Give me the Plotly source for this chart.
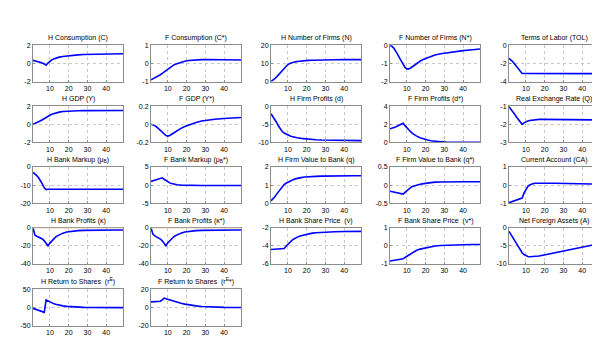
import plotly.graph_objects as go

periods = [1, 2, 3, 4, 5, 6, 7, 8, 9, 10, 11, 12, 13, 14, 15, 17, 19, 21, 23, 25, 28, 31, 35, 40, 45, 49]
x_ticks = [10, 20, 30, 40]

titles = [
    "H Consumption (C)", "F Consumption (C*)", "H Number of Firms (N)", "F Number of Firms (N*)", "Terms of Labor (TOL)",
    "H GDP (Y)", "F GDP (Y*)", "H Firm Profits (d)", "F Firm Profits (d*)", "Real Exchange Rate (Q)",
    "H Bank Markup (\u03bc<sub>B</sub>)", "F Bank Markup (\u03bc<sub>B</sub>*)", "H Firm Value to Bank (q)",
    "F Firm Value to Bank (q*)", "Current Account (CA)",
    "H Bank Profits (\u03ba)", "F Bank Profits (\u03ba*)", "H Bank Share Price  (v)", "F Bank Share Price  (v*)",
    "Net Foreign Assets (A)",
    "H Return to Shares  (r<sup>E</sup>)", "F Return to Shares  (r<sup>E</sup>*)",
]

y_ticks = [
    [-2, 0, 2], [-1, 0, 1], [0, 10, 20], [-2, -1, 0], [-4, -2, 0],
    [-2, 0, 2], [-0.2, 0, 0.2], [-10, -5, 0], [0, 2, 4], [-3, -2, -1],
    [-20, -10, 0], [-5, 0, 5], [0, 1, 2], [-0.5, 0, 0.5], [-1, 0, 1],
    [-40, -20, 0], [-40, -20, 0], [-6, -4, -2], [-1, 0, 1], [-10, -5, 0],
    [-50, 0, 50], [-20, 0, 20],
]
y_tick_text = [
    ["-2", "0", "2"], ["-1", "0", "1"], ["0", "10", "20"], ["-2", "-1", "0"], ["-4", "-2", "0"],
    ["-2", "0", "2"], ["-0.2", "0", "0.2"], ["-10", "-5", "0"], ["0", "2", "4"], ["-3", "-2", "-1"],
    ["-20", "-10", "0"], ["-5", "0", "5"], ["0", "1", "2"], ["-0.5", "0", "0.5"], ["-1", "0", "1"],
    ["-40", "-20", "0"], ["-40", "-20", "0"], ["-6", "-4", "-2"], ["-1", "0", "1"], ["-10", "-5", "0"],
    ["-50", "0", "50"], ["-20", "0", "20"],
]

C = [0.35, 0.3, 0.25, 0.2, 0.12, 0.05, -0.05, -0.2, 0.05, 0.25, 0.4, 0.5, 0.58, 0.65, 0.7, 0.77, 0.83, 0.88, 0.92, 0.95, 0.99, 1.01, 1.04, 1.06, 1.07, 1.08]
C_f = [-0.9, -0.85, -0.8, -0.74, -0.68, -0.62, -0.55, -0.47, -0.38, -0.3, -0.22, -0.15, -0.09, -0.04, 0.0, 0.07, 0.12, 0.16, 0.18, 0.2, 0.21, 0.22, 0.22, 0.21, 0.2, 0.19]
N = [0, 0.7, 1.6, 2.6, 3.7, 4.9, 6.2, 7.5, 8.6, 9.4, 10.0, 10.4, 10.7, 10.9, 11.1, 11.4, 11.6, 11.7, 11.8, 11.9, 12.0, 12.0, 12.05, 12.1, 12.1, 12.1]
N_f = [0, -0.05, -0.15, -0.3, -0.48, -0.68, -0.88, -1.07, -1.22, -1.3, -1.3, -1.25, -1.17, -1.08, -1.0, -0.88, -0.76, -0.67, -0.59, -0.53, -0.46, -0.41, -0.35, -0.29, -0.24, -0.2]
TOL = [-1.45, -1.6, -1.8, -2.05, -2.3, -2.55, -2.85, -3.1, -3.1, -3.1, -3.1, -3.1, -3.1, -3.1, -3.1, -3.1, -3.1, -3.1, -3.1, -3.11, -3.11, -3.11, -3.11, -3.12, -3.12, -3.12]
Y = [0, 0.08, 0.17, 0.27, 0.38, 0.5, 0.64, 0.78, 0.9, 1.0, 1.1, 1.18, 1.25, 1.3, 1.34, 1.4, 1.44, 1.46, 1.48, 1.49, 1.5, 1.5, 1.51, 1.51, 1.51, 1.51]
Y_f = [0, -0.005, -0.015, -0.03, -0.05, -0.07, -0.09, -0.11, -0.125, -0.13, -0.125, -0.11, -0.095, -0.08, -0.068, -0.045, -0.025, -0.008, 0.007, 0.02, 0.035, 0.046, 0.056, 0.064, 0.07, 0.074]
d = [-2.1, -2.8, -3.6, -4.5, -5.5, -6.4, -7.0, -7.4, -7.7, -7.95, -8.15, -8.35, -8.5, -8.62, -8.72, -8.88, -9.0, -9.1, -9.18, -9.25, -9.33, -9.38, -9.43, -9.47, -9.5, -9.52]
d_f = [1.5, 1.55, 1.62, 1.7, 1.8, 1.9, 2.0, 2.12, 1.85, 1.6, 1.38, 1.18, 1.0, 0.85, 0.72, 0.52, 0.38, 0.27, 0.19, 0.13, 0.08, 0.05, 0.03, 0.02, 0.01, 0.01]
Q = [-1.03, -1.15, -1.3, -1.45, -1.6, -1.75, -1.88, -2.0, -1.92, -1.86, -1.82, -1.79, -1.77, -1.75, -1.74, -1.73, -1.73, -1.73, -1.73, -1.73, -1.74, -1.74, -1.75, -1.75, -1.76, -1.76]
muB = [-3, -3.8, -4.8, -6, -7.5, -9.5, -11.5, -12.5, -12.3, -12.3, -12.3, -12.3, -12.3, -12.3, -12.3, -12.3, -12.3, -12.3, -12.3, -12.3, -12.3, -12.3, -12.3, -12.3, -12.3, -12.3]
muB_f = [1.0, 1.15, 1.3, 1.45, 1.6, 1.8, 2.0, 1.6, 1.2, 0.85, 0.6, 0.4, 0.25, 0.15, 0.07, -0.03, -0.08, -0.1, -0.12, -0.12, -0.12, -0.12, -0.12, -0.12, -0.12, -0.12]
q = [0.12, 0.22, 0.35, 0.5, 0.65, 0.8, 0.93, 1.03, 1.1, 1.16, 1.22, 1.27, 1.31, 1.34, 1.37, 1.41, 1.44, 1.46, 1.47, 1.48, 1.49, 1.5, 1.5, 1.51, 1.51, 1.51]
q_f = [-0.17, -0.18, -0.19, -0.2, -0.21, -0.22, -0.24, -0.25, -0.2, -0.15, -0.11, -0.07, -0.04, -0.02, 0.0, 0.02, 0.04, 0.06, 0.07, 0.08, 0.085, 0.09, 0.09, 0.09, 0.09, 0.09]
CA = [-0.97, -0.94, -0.91, -0.88, -0.85, -0.82, -0.79, -0.72, -0.45, -0.22, -0.08, 0.0, 0.05, 0.08, 0.1, 0.11, 0.11, 0.11, 0.1, 0.1, 0.09, 0.08, 0.07, 0.06, 0.06, 0.05]
kappa = [0, -8, -9.5, -10.5, -11.2, -12.5, -14.5, -17, -20, -17, -14.5, -12.5, -10.5, -9, -7.8, -6, -4.8, -4, -3.5, -3.2, -2.9, -2.7, -2.6, -2.5, -2.5, -2.5]
kappa_f = [0, -7, -9, -10, -11, -12.5, -14.5, -17.5, -20, -16.5, -14, -12, -10.3, -8.9, -7.7, -6, -4.8, -4, -3.5, -3.2, -2.9, -2.7, -2.6, -2.5, -2.5, -2.5]
v = [-4.4, -4.39, -4.38, -4.37, -4.36, -4.35, -4.33, -4.3, -4.05, -3.8, -3.6, -3.42, -3.27, -3.14, -3.04, -2.88, -2.76, -2.67, -2.6, -2.55, -2.5, -2.47, -2.44, -2.42, -2.41, -2.4]
v_f = [-0.84, -0.82, -0.8, -0.78, -0.76, -0.74, -0.73, -0.71, -0.64, -0.57, -0.5, -0.43, -0.37, -0.31, -0.26, -0.18, -0.13, -0.08, -0.04, -0.01, 0.02, 0.04, 0.05, 0.06, 0.07, 0.07]
A = [-1.0, -1.9, -2.8, -3.7, -4.6, -5.4, -6.2, -6.9, -7.4, -7.75, -7.95, -8.0, -8.0, -7.97, -7.92, -7.8, -7.6, -7.4, -7.2, -7.0, -6.7, -6.35, -5.95, -5.4, -4.85, -4.35]
rE = [-2, -4, -6, -7.5, -9, -10.5, -13, 21, 18, 15.5, 13, 11, 9.3, 7.8, 6.6, 4.7, 3.3, 2.4, 1.7, 1.2, 0.7, 0.4, 0.2, 0.1, 0, 0]
rE_f = [6.3, 6.3, 6.4, 6.5, 6.6, 7.0, 8.5, 10.5, 9.8, 9.1, 8.4, 7.7, 7.0, 6.4, 5.8, 4.7, 3.8, 3.0, 2.4, 1.9, 1.3, 0.9, 0.5, 0.25, 0.1, 0.05]

series = [C, C_f, N, N_f, TOL, Y, Y_f, d, d_f, Q, muB, muB_f, q, q_f, CA,
          kappa, kappa_f, v, v_f, A, rE, rE_f]

W, H = 600, 358
col_left = [25, 143, 263, 382, 501]
row_top = [34, 96, 158, 220, 283]
box_w, box_h = 90, 37

font_family = "Arial, Liberation Sans, sans-serif"
fig = go.Figure()
annotations = []
shapes = []
layout = {}
for i, (vals, ttl, yt, ytt) in enumerate(zip(series, titles, y_ticks, y_tick_text)):
    r, c = divmod(i, 5)
    k = i + 1
    xa = "x" if k == 1 else f"x{k}"
    ya = "y" if k == 1 else f"y{k}"
    x0 = col_left[c] / W
    x1 = (col_left[c] + box_w) / W
    y1 = 1 - row_top[r] / H
    y0 = 1 - (row_top[r] + box_h) / H
    axis_common = dict(
        showline=True, mirror=True, linecolor="#8c8c8c", linewidth=1,
        showgrid=True, gridcolor="#c8c8c8", griddash="dot", gridwidth=1,
        zeroline=False, ticks="inside", ticklen=2, tickcolor="#8c8c8c",
        tickfont=dict(family=font_family, size=7, color="#000000"),
        fixedrange=True,
    )
    layout["xaxis" if k == 1 else f"xaxis{k}"] = dict(
        domain=[x0, x1], anchor=ya, range=[1, 49], tickvals=x_ticks,
        ticktext=[str(t) for t in x_ticks], **axis_common)
    layout["yaxis" if k == 1 else f"yaxis{k}"] = dict(
        domain=[y0, y1], anchor=xa, range=[yt[0], yt[-1]], tickvals=yt,
        ticktext=ytt, **axis_common)
    fig.add_trace(go.Scatter(x=periods, y=vals, mode="lines", xaxis=xa, yaxis=ya,
                             line=dict(color="#0000ff", width=1.6), showlegend=False,
                             hoverinfo="skip"))
    annotations.append(dict(
        text=ttl, x=(x0 + x1) / 2, y=y1, xref="paper", yref="paper",
        xanchor="center", yanchor="bottom", yshift=1, showarrow=False,
        font=dict(family=font_family, size=7, color="#000000")))

for k in (16, 17):
    shapes.append(dict(type="line", xref=f"x{k}", yref=f"y{k}", x0=1, x1=49, y0=0, y1=0,
                       line=dict(color="#e2dcae", width=1.5), layer="above"))

fig.update_layout(
    width=W, height=H, margin=dict(l=0, r=0, t=0, b=0),
    paper_bgcolor="#ffffff", plot_bgcolor="#ffffff",
    annotations=annotations, shapes=shapes, showlegend=False,
    **layout,
)
fig.write_html("out.html")
